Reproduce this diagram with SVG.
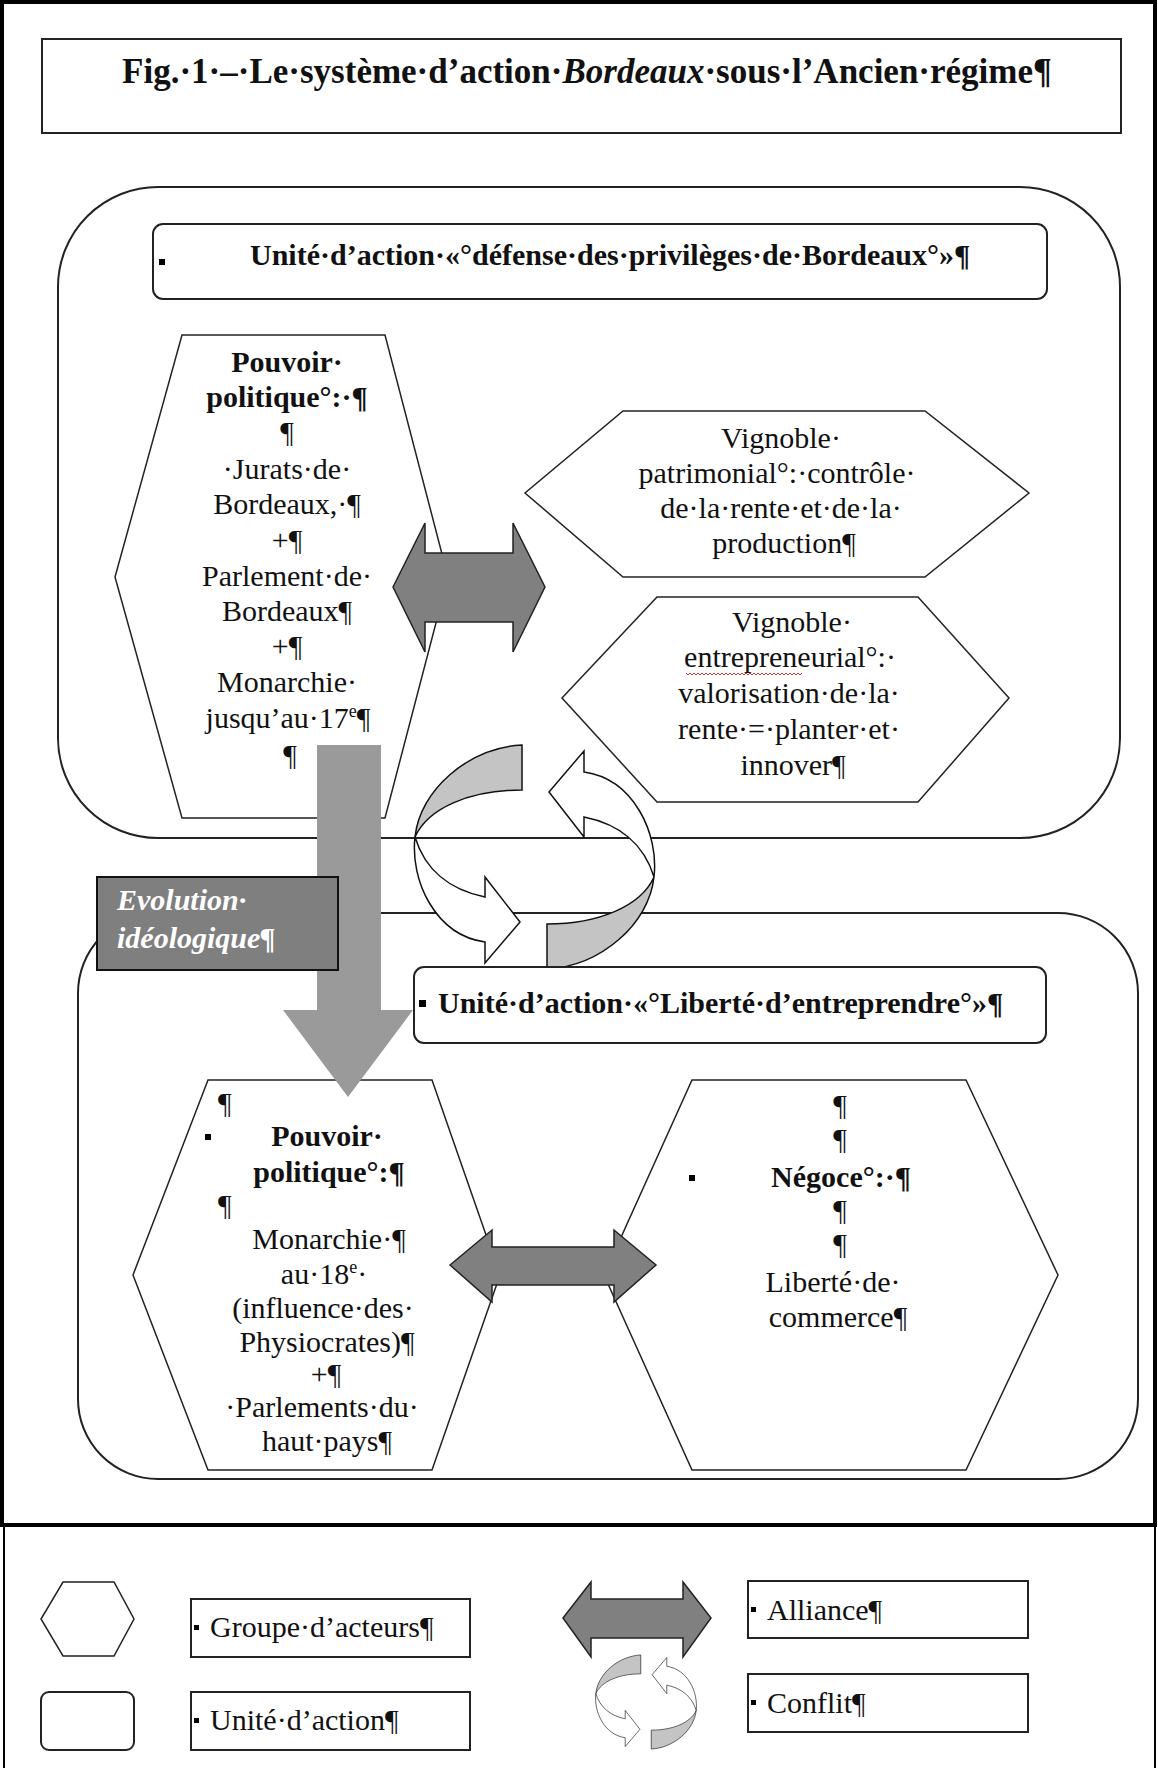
<svg xmlns="http://www.w3.org/2000/svg" width="1158" height="1768" viewBox="0 0 1158 1768">
<style>
text{font-family:"Liberation Serif","Times New Roman",serif;fill:#111;font-size:30px}
.b{font-weight:bold}
.c{text-anchor:middle}
.title{font-size:35px;font-weight:bold;text-anchor:middle}
.box{fill:#fff;stroke:#222;stroke-width:2}
.hex{fill:#fff;stroke:#222;stroke-width:1.5}
.ally{fill:#808080;stroke:#222;stroke-width:1.5;stroke-linejoin:miter}
.cw{fill:#fff;stroke:#111;stroke-width:1.5}
.cg{fill:#c4c4c4;stroke:#111;stroke-width:1.5}
.sq{fill:#000}
.evo{fill:#fff;font-weight:bold;font-style:italic}
</style>
<defs>
<g id="conflictL">
<path class="cg" d="M522,745 C468,748 420,790 415,837 C428,808 470,790 522,790 Z"/>
<path class="cw" d="M415,837 C410,880 435,935 485,942 L485,963 L520,922 L485,877 L485,897 C450,890 425,870 415,837 Z"/>
</g>
<g id="conflictPair">
<use href="#conflictL"/>
<use href="#conflictL" transform="rotate(180 534.5 857)"/>
</g>
</defs>

<g id="frame">
<rect x="2" y="2" width="1153" height="1523" fill="#fff" stroke="#000" stroke-width="4"/>
<rect x="4" y="1526" width="1151" height="1240" fill="#fff" stroke="#000" stroke-width="2"/>
</g>

<g id="title">
<rect class="box" x="42" y="39" width="1079" height="94"/>
<text class="title" x="587" y="83">Fig.·1·–·Le·système·d’action·<tspan font-style="italic">Bordeaux</tspan>·sous·l’Ancien·régime¶</text>
</g>

<g id="unit-defense">
<rect class="box" x="58" y="187" width="1062" height="651" rx="100" ry="100"/>
<rect class="box" x="153" y="224" width="894" height="75" rx="10" ry="10"/>
<rect class="sq" x="159" y="259" width="6" height="6"/>
<text class="b" x="250" y="265">Unité·d’action·«°défense·des·privilèges·de·Bordeaux°»¶</text>
</g>

<g id="unit-liberte">
<rect class="box" x="78" y="913" width="1060" height="566" rx="80" ry="80"/>
</g>

<g id="hex-pouvoir-1">
<polygon class="hex" points="182,335 385,335 448,577 385,818 182,818 115,577"/>
<text class="b c" x="287" y="372">Pouvoir·</text>
<text class="b c" x="287" y="407">politique°:·¶</text>
<text class="c" x="287" y="442">¶</text>
<text class="c" x="287" y="479">·Jurats·de·</text>
<text class="c" x="287" y="514">Bordeaux,·¶</text>
<text class="c" x="287" y="550">+¶</text>
<text class="c" x="287" y="586">Parlement·de·</text>
<text class="c" x="287" y="621">Bordeaux¶</text>
<text class="c" x="287" y="656">+¶</text>
<text class="c" x="287" y="692">Monarchie·</text>
<text class="c" x="288" y="728">jusqu’au·17<tspan font-size="18" dy="-11">e</tspan><tspan dy="11">¶</tspan></text>
<text class="c" x="290" y="765">¶</text>
</g>

<g id="hex-patrimonial">
<polygon class="hex" points="623,411 925,411 1029,493 925,577 623,577 525,493"/>
<text class="c" x="781" y="448">Vignoble·</text>
<text class="c" x="777" y="483">patrimonial°:·contrôle·</text>
<text class="c" x="781" y="518">de·la·rente·et·de·la·</text>
<text class="c" x="784" y="553">production¶</text>
</g>

<g id="hex-entrepreneurial">
<polygon class="hex" points="657,597 918,597 1009,698 918,802 657,802 562,698"/>
<text class="c" x="792" y="632">Vignoble·</text>
<text class="c" x="790" y="667">entrepreneurial°:·</text>
<path d="M686,673 l2,2 l2,-2 l2,2 l2,-2 l2,2 l2,-2 l2,2 l2,-2 l2,2 l2,-2 l2,2 l2,-2 l2,2 l2,-2 l2,2 l2,-2 l2,2 l2,-2 l2,2 l2,-2 l2,2 l2,-2 l2,2 l2,-2 l2,2 l2,-2 l2,2 l2,-2 l2,2 l2,-2 l2,2 l2,-2 l2,2 l2,-2 l2,2 l2,-2 l2,2 l2,-2 l2,2 l2,-2 l2,2 l2,-2 l2,2 l2,-2 l2,2 l2,-2 l2,2 l2,-2 l2,2 l2,-2 l2,2 l2,-2 l2,2 l2,-2 l2,2 l2,-2 l2,2 l2,-2" fill="none" stroke="#e03030" stroke-width="1"/>
<text class="c" x="789" y="703">valorisation·de·la·</text>
<text class="c" x="789" y="739">rente·=·planter·et·</text>
<text class="c" x="793" y="775">innover¶</text>
</g>

<g id="hex-pouvoir-2">
<polygon class="hex" points="208,1080 432,1080 500,1275 432,1470 208,1470 133,1275"/>
<text x="218" y="1113">¶</text>
<rect class="sq" x="205" y="1134" width="6" height="6"/>
<text class="b c" x="327" y="1146">Pouvoir·</text>
<text class="b c" x="329" y="1182">politique°:¶</text>
<text x="218" y="1215">¶</text>
<text class="c" x="329" y="1249">Monarchie·¶</text>
<text class="c" x="324" y="1284">au·18<tspan font-size="18" dy="-11">e</tspan><tspan dy="11">·</tspan></text>
<text class="c" x="323" y="1318">(influence·des·</text>
<text class="c" x="327" y="1352">Physiocrates)¶</text>
<text class="c" x="326" y="1384">+¶</text>
<text class="c" x="322" y="1417">·Parlements·du·</text>
<text class="c" x="327" y="1451">haut·pays¶</text>
</g>

<g id="hex-negoce">
<polygon class="hex" points="692,1080 966,1080 1058,1275 966,1470 692,1470 604,1275"/>
<text class="c" x="840" y="1115">¶</text>
<text class="c" x="840" y="1149">¶</text>
<rect class="sq" x="689" y="1175" width="6" height="6"/>
<text class="b c" x="841" y="1187">Négoce°:·¶</text>
<text class="c" x="840" y="1220">¶</text>
<text class="c" x="840" y="1254">¶</text>
<text class="c" x="833" y="1292">Liberté·de·</text>
<text class="c" x="838" y="1327">commerce¶</text>
</g>

<g id="connectors">
<polygon id="alliance-top" class="ally" points="393,587 425,523 425,553 513,553 513,523 545,587 513,652 513,622 425,622 425,652"/>
<polygon id="alliance-bottom" class="ally" points="450,1265 492,1230 492,1247 614,1247 614,1230 656,1265 614,1302 614,1285 492,1285 492,1302"/>
<g id="conflict"><use href="#conflictPair"/></g>
<polygon id="evolution-arrow" points="317,745 381,745 381,1010 413,1010 348,1097 283,1010 317,1010" fill="#9a9a9a"/>
</g>

<g id="evolution-label">
<rect x="97" y="877" width="241" height="93" fill="#7f7f7f" stroke="#111" stroke-width="2"/>
<text class="evo" x="117" y="910">Evolution·</text>
<text class="evo" x="117" y="948">idéologique¶</text>
</g>

<g id="unit-liberte-label">
<rect class="box" x="414" y="967" width="632" height="76" rx="10" ry="10"/>
<rect class="sq" x="419" y="1000" width="7" height="7"/>
<text class="b" x="438" y="1013">Unité·d’action·«°Liberté·d’entreprendre°»¶</text>
</g>

<g id="legend">
<polygon class="hex" points="63,1582 114,1582 134,1619 114,1656 63,1656 41,1619"/>
<rect class="box" x="41" y="1692" width="93" height="58" rx="8" ry="8"/>
<rect class="box" x="191" y="1599" width="279" height="58"/>
<rect class="sq" x="194" y="1625" width="5" height="5"/>
<text x="210" y="1637">Groupe·d’acteurs¶</text>
<rect class="box" x="191" y="1692" width="279" height="58"/>
<rect class="sq" x="194" y="1718" width="5" height="5"/>
<text x="210" y="1730">Unité·d’action¶</text>
<polygon class="ally" points="563,1618 591,1582 591,1599 683,1599 683,1582 711,1618 683,1657 683,1638 591,1638 591,1657"/>
<rect class="box" x="748" y="1581" width="280" height="57"/>
<rect class="sq" x="751" y="1607" width="5" height="5"/>
<text x="767" y="1620">Alliance¶</text>
<g transform="translate(646,1702) scale(0.42) translate(-534.5,-857)"><use href="#conflictPair"/></g>
<rect class="box" x="748" y="1674" width="280" height="58"/>
<rect class="sq" x="751" y="1700" width="5" height="5"/>
<text x="767" y="1713">Conflit¶</text>
</g>
</svg>
